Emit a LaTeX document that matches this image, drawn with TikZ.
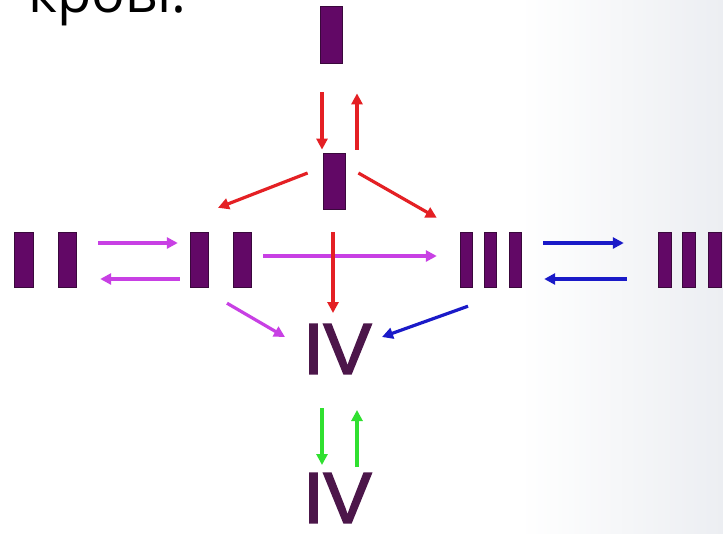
\documentclass[tikz,border=0pt]{standalone}
\usepackage{fontspec}
\setmainfont{Open Sans}
\newfontfamily\ivfont[FakeBold=2.5]{Liberation Sans}
\usetikzlibrary{arrows.meta}
\definecolor{barfill}{RGB}{98,8,102}
\definecolor{barline}{RGB}{58,8,60}
\definecolor{ivcol}{RGB}{76,22,74}
\definecolor{redA}{RGB}{228,32,36}
\definecolor{violA}{RGB}{200,64,228}
\definecolor{blueA}{RGB}{26,26,200}
\definecolor{greenA}{RGB}{48,224,48}
\definecolor{bgright}{RGB}{236,238,242}
\tikzset{
  bar/.style={draw=barline, fill=barfill, line width=0.8pt, minimum width=#1, minimum height=55pt, inner sep=0pt},
  grp/.style={inner sep=0pt, minimum height=55pt, minimum width=#1},
  arr/.style={line width=3.2pt, -{Triangle[length=11pt,width=11pt]}},
  redarr/.style={arr, draw=redA},
  violarr/.style={arr, draw=violA},
  bluearr/.style={arr, draw=blueA},
  greenarr/.style={arr, draw=greenA},
  ivtext/.style={inner sep=0pt, text=ivcol, font=\ivfont\fontsize{72}{80}\selectfont},
  titletext/.style={inner sep=0pt, text=black, font=\fontsize{56}{62}\selectfont}
}
\begin{document}
\begin{tikzpicture}[x=1pt, y=-1pt]
\useasboundingbox (0,0) rectangle (723,533);
\clip (0,0) rectangle (723,533);
\fill[white] (0,0) rectangle (723,533);
\shade[left color=white, right color=bgright] (520,0) rectangle (723,533);

% title (cut at top)
\node[titletext, anchor=base west] (title) at (28,12) {крові.};

% I
\node[bar=22pt, minimum height=57pt] (I1) at (331,34.5) {};
\node[bar=22pt, minimum height=56pt] (I2) at (334,181) {};

% II left
\node[bar=19pt] (IIla) at (23.5,259.5) {};
\node[bar=18pt] (IIlb) at (67,259.5) {};
\node[grp=62pt] (IIl) at (45,259.5) {};
% II middle
\node[bar=18pt] (IIma) at (199.5,259.5) {};
\node[bar=18pt] (IImb) at (242,259.5) {};
\node[grp=60pt] (IIm) at (221,259.5) {};
% III middle
\node[bar=12pt] (IIIma) at (466.5,259.5) {};
\node[bar=12pt] (IIImb) at (490,259.5) {};
\node[bar=12pt] (IIImc) at (515,259.5) {};
\node[grp=60pt] (IIIm) at (491,259.5) {};
% III right
\node[bar=13pt] (IIIra) at (665,259.5) {};
\node[bar=13pt] (IIIrb) at (689,259.5) {};
\node[bar=13pt] (IIIrc) at (715,259.5) {};
\node[grp=64pt] (IIIr) at (690,259.5) {};

% IV
\node[ivtext] (IV1) at (337.5,349) {IV};
\node[ivtext] (IV2) at (337.5,498) {IV};

% violet arrows
\draw[violarr] ([shift={(22,-16.5)}]IIl.east) -- ([shift={(-13,-16.5)}]IIm.west);
\draw[violarr] ([shift={(-11,19.5)}]IIm.west) -- ([shift={(24,19.5)}]IIl.east);
\draw[violarr] ([shift={(12,-3.5)}]IIm.east) -- ([shift={(-24,-3.5)}]IIIm.west);
\draw[violarr] ([shift={(6,16)}]IIm.south) -- ([shift={(-52.5,-12)}]IV1.center);

% blue arrows
\draw[bluearr] ([shift={(22,-16.5)}]IIIm.east) -- ([shift={(-34,-16.5)}]IIIr.west);
\draw[bluearr] ([shift={(-31,19.5)}]IIIr.west) -- ([shift={(23,19.5)}]IIIm.east);
\draw[bluearr] ([shift={(-23,19)}]IIIm.south) -- ([shift={(44.5,-12)}]IV1.center);

% red arrows
\draw[redarr] ([shift={(-9,29)}]I1.south) -- ([shift={(-12,-3)}]I2.north);
\draw[redarr] ([shift={(23,-3)}]I2.north) -- ([shift={(26,30)}]I1.south);
\draw[redarr] ([shift={(-15,-8)}]I2.west) -- ([shift={(-3,-24)}]IIm.north);
\draw[redarr] ([shift={(13,-8)}]I2.east) -- ([shift={(-24,-14)}]IIIm.north west);
\draw[redarr] ([shift={(-1,23)}]I2.south) -- ([shift={(-4.5,-36)}]IV1.center);

% green arrows
\draw[greenarr] ([shift={(-15.5,59)}]IV1.center) -- ([shift={(-15.5,-33)}]IV2.center);
\draw[greenarr] ([shift={(19.5,-31)}]IV2.center) -- ([shift={(19.5,61)}]IV1.center);
\end{tikzpicture}
\end{document}
